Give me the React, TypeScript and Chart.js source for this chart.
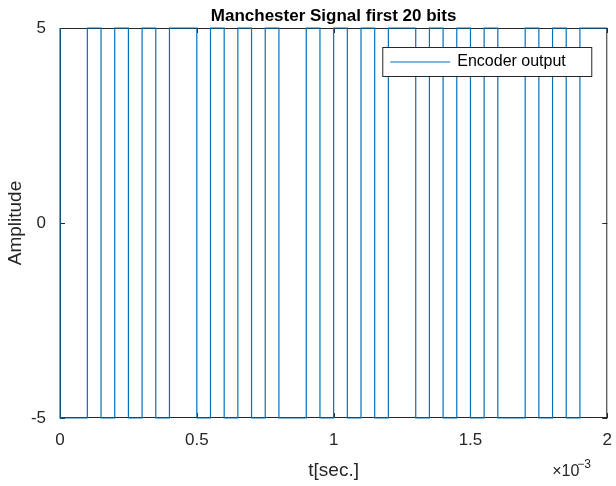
import React, { useEffect, useRef } from "react";
import { Chart, registerables } from "chart.js";
Chart.register(...registerables);

// half-bit levels, each 0.05e-3 s long (40 halves = 20 bits)
const halfLevels = [5,-5,-5,5,-5,5,-5,5,-5,5,5,-5,5,-5,5,-5,5,-5,-5,5,-5,5,-5,5,-5,5,5,-5,5,-5,5,-5,5,-5,-5,5,-5,5,-5,5];
const halfDuration = 0.05e-3;
const xTicks = [0, 0.0005, 0.001, 0.0015, 0.002];
const xTickLabels = ["0", "0.5", "1", "1.5", "2"];
const yTicks = [-5, 0, 5];
const FONT = "'Liberation Sans', Arial, sans-serif";

export default function App() {
  const ref = useRef<HTMLCanvasElement>(null);
  useEffect(() => {
    document.body.style.margin = "0";
    const pts = halfLevels.map((y, i) => ({ x: i * halfDuration, y }));
    pts.push({ x: halfLevels.length * halfDuration, y: halfLevels[halfLevels.length - 1] });
    const deco = {
      id: "deco",
      beforeDatasetsDraw(c: any) {
        const ctx = c.ctx;
        const a = c.chartArea;
        const xs = c.scales.x, ys = c.scales.y;
        ctx.save();
        ctx.strokeStyle = "#262626";
        ctx.lineWidth = 1;
        ctx.strokeRect(a.left + 0.5, a.top + 0.5, a.right - a.left - 1, a.bottom - a.top - 1);
        ctx.beginPath();
        xTicks.forEach((v) => {
          const p = Math.round(xs.getPixelForValue(v)) + 0.5;
          ctx.moveTo(p, a.bottom); ctx.lineTo(p, a.bottom - 5);
          ctx.moveTo(p, a.top); ctx.lineTo(p, a.top + 5);
        });
        yTicks.forEach((v) => {
          const p = Math.round(ys.getPixelForValue(v)) + 0.5;
          ctx.moveTo(a.left, p); ctx.lineTo(a.left + 5, p);
          ctx.moveTo(a.right, p); ctx.lineTo(a.right - 5, p);
        });
        ctx.stroke();
        ctx.restore();
      },
      afterDraw(c: any) {
        const ctx = c.ctx;
        const a = c.chartArea;
        ctx.save();
        ctx.fillStyle = "#000";
        ctx.font = `bold 17px ${FONT}`;
        ctx.textAlign = "center";
        ctx.textBaseline = "bottom";
        ctx.fillText("Manchester Signal first 20 bits", (a.left + a.right) / 2, a.top - 3);
        ctx.fillStyle = "#262626";
        ctx.font = `16px ${FONT}`;
        ctx.textAlign = "left";
        ctx.textBaseline = "alphabetic";
        ctx.fillText("\u00d710", a.right - 55, a.bottom + 58);
        ctx.font = `12px ${FONT}`;
        ctx.fillText("\u22123", a.right - 30, a.bottom + 50);
        const lx = a.right - 225, ly = a.top + 19, lw = 209, lh = 29;
        ctx.fillStyle = "#fff";
        ctx.fillRect(lx, ly, lw, lh);
        ctx.strokeStyle = "#262626";
        ctx.lineWidth = 1;
        ctx.strokeRect(lx + 0.5, ly + 0.5, lw, lh);
        ctx.strokeStyle = "#0072BD";
        ctx.beginPath();
        ctx.moveTo(lx + 8, ly + 15); ctx.lineTo(lx + 68, ly + 15);
        ctx.stroke();
        ctx.fillStyle = "#000";
        ctx.font = `16px ${FONT}`;
        ctx.textBaseline = "middle";
        ctx.fillText("Encoder output", lx + 75, ly + 15);
        ctx.restore();
      },
    };
    const chart = new Chart(ref.current!, {
      type: "line",
      data: {
        datasets: [{
          label: "Encoder output",
          data: pts,
          stepped: "after",
          borderColor: "#0072BD",
          borderWidth: 1.2,
          pointRadius: 0,
          fill: false,
          clip: 4,
        }],
      },
      options: {
        animation: false,
        responsive: false,
        layout: { padding: { top: 28, right: 8, left: 0, bottom: 0 } },
        plugins: { legend: { display: false }, tooltip: { enabled: false } },
        scales: {
          x: {
            type: "linear", min: 0, max: 0.002,
            grid: { display: false },
            border: { display: false },
            afterBuildTicks: (s: any) => { s.ticks = xTicks.map((v) => ({ value: v })); },
            afterFit: (s: any) => { s.height = 68; },
            ticks: {
              color: "#262626", font: { size: 17, family: FONT }, padding: 4, maxRotation: 0,
              callback: (v: any) => { const i = xTicks.findIndex((t) => Math.abs(t - v) < 1e-9); return i >= 0 ? xTickLabels[i] : ""; },
            },
            title: { display: true, text: "t[sec.]", color: "#262626", font: { size: 19, family: FONT }, padding: { top: 2 } },
          },
          y: {
            min: -5, max: 5,
            grid: { display: false },
            border: { display: false },
            afterBuildTicks: (s: any) => { s.ticks = yTicks.map((v) => ({ value: v })); },
            afterFit: (s: any) => { s.width = 60; },
            ticks: { color: "#262626", font: { size: 17, family: FONT }, padding: 6 },
            title: { display: true, text: "Amplitude", color: "#262626", font: { size: 19, family: FONT }, padding: { bottom: 6 } },
          },
        },
      },
      plugins: [deco],
    });
    return () => chart.destroy();
  }, []);
  return <canvas ref={ref} width={616} height={486} style={{ display: "block" }} />;
}
